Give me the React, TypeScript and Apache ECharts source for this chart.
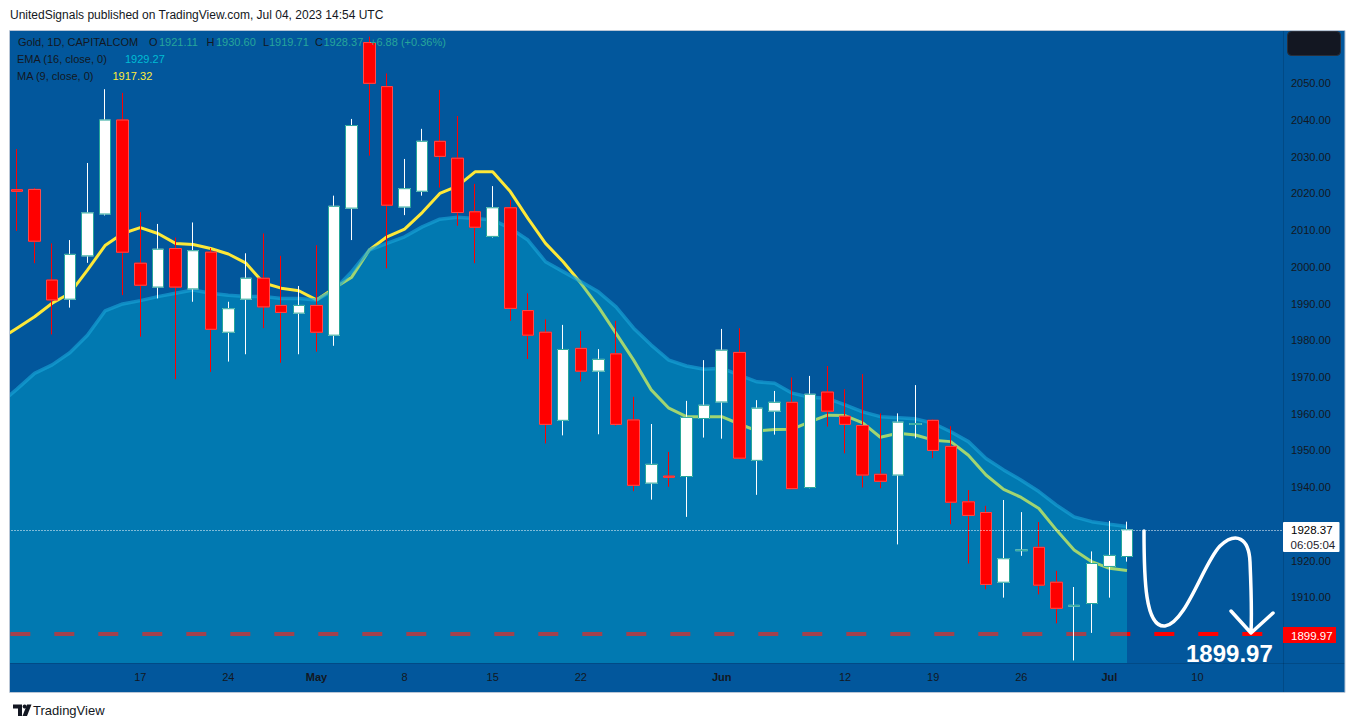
import { useEffect, useRef } from 'react';
import * as echarts from 'echarts';

// ---------- DATA ----------
const categories = [
  '2023-04-05', '2023-04-06', '2023-04-07',
  '2023-04-10', '2023-04-11', '2023-04-12', '2023-04-13', '2023-04-14',
  '2023-04-17', '2023-04-18', '2023-04-19', '2023-04-20', '2023-04-21',
  '2023-04-24', '2023-04-25', '2023-04-26', '2023-04-27', '2023-04-28',
  '2023-05-01', '2023-05-02', '2023-05-03', '2023-05-04', '2023-05-05',
  '2023-05-08', '2023-05-09', '2023-05-10', '2023-05-11', '2023-05-12',
  '2023-05-15', '2023-05-16', '2023-05-17', '2023-05-18', '2023-05-19',
  '2023-05-22', '2023-05-23', '2023-05-24', '2023-05-25', '2023-05-26',
  '2023-05-29', '2023-05-30', '2023-05-31', '2023-06-01', '2023-06-02',
  '2023-06-05', '2023-06-06', '2023-06-07', '2023-06-08', '2023-06-09',
  '2023-06-12', '2023-06-13', '2023-06-14', '2023-06-15', '2023-06-16',
  '2023-06-19', '2023-06-20', '2023-06-21', '2023-06-22', '2023-06-23',
  '2023-06-26', '2023-06-27', '2023-06-28', '2023-06-29', '2023-06-30',
  '2023-07-03', '2023-07-04', '2023-07-05', '2023-07-06', '2023-07-07',
  '2023-07-10', '2023-07-11', '2023-07-12', '2023-07-13', '2023-07-14',
  '2023-07-17',
];

// candles start at 2023-04-06 (category index 1)
const candleStart = 1;
const opens = [
  2021.0, 2021.1, 1996.4, 1991.2, 2003.0, 2014.4, 2040.0, 2001.0, 1994.5, 2005.0,
  1994.0, 2004.0, 1982.2, 1991.2, 1996.9, 1989.5, 1987.4, 1989.5, 1981.4, 2016.0,
  2061.1, 2049.1, 2016.3, 2020.6, 2034.2, 2029.6, 2015.0, 2008.3, 2016.1, 1988.1,
  1982.2, 1958.2, 1977.8, 1971.6, 1976.3, 1958.3, 1941.1, 1943.0, 1942.9, 1958.7,
  1963.2, 1976.7, 1947.3, 1960.7, 1963.1, 1939.9, 1965.9, 1959.3, 1956.8, 1943.5,
  1943.3, 1957.1, 1958.2, 1951.1, 1936.0, 1933.1, 1914.1, 1922.7, 1923.6, 1914.1,
  1907.6, 1908.3, 1918.4, 1921.11,
];
const highs = [
  2032.1, 2021.5, 2006.4, 2007.3, 2028.3, 2048.4, 2047.4, 2014.9, 2011.7, 2008.0,
  2012.1, 2005.1, 1990.5, 2003.7, 2009.1, 2003.0, 1994.8, 2005.9, 2019.4, 2040.3,
  2062.7, 2052.7, 2029.4, 2037.6, 2048.2, 2041.1, 2022.6, 2022.0, 2018.2, 1992.8,
  1985.7, 1984.2, 1982.5, 1977.6, 1985.3, 1964.6, 1957.2, 1949.6, 1963.5, 1974.6,
  1983.1, 1983.3, 1963.7, 1966.2, 1969.9, 1970.3, 1973.0, 1966.7, 1970.8, 1960.1,
  1960.1, 1967.8, 1958.4, 1956.6, 1939.2, 1934.9, 1936.5, 1933.2, 1930.5, 1917.2,
  1912.8, 1922.5, 1930.8, 1930.60,
];
const lows = [
  2009.8, 2001.0, 1981.6, 1988.9, 2001.1, 2014.0, 1992.3, 1981.0, 1991.4, 1969.4,
  1990.5, 1971.4, 1974.2, 1976.2, 1983.3, 1973.9, 1976.2, 1976.9, 1978.5, 2007.3,
  2030.3, 1999.6, 2014.1, 2019.4, 2021.6, 2011.2, 2001.0, 2008.0, 1985.3, 1974.9,
  1951.9, 1954.1, 1968.8, 1954.4, 1956.7, 1938.9, 1936.6, 1940.1, 1931.9, 1953.5,
  1953.2, 1947.6, 1937.9, 1954.3, 1939.4, 1939.7, 1956.5, 1949.2, 1939.9, 1939.7,
  1924.4, 1953.3, 1947.9, 1929.9, 1919.2, 1912.2, 1909.9, 1921.3, 1910.8, 1902.9,
  1892.8, 1900.3, 1909.9, 1919.71,
];
const closes = [
  2020.6, 2007.0, 1991.0, 2003.4, 2014.7, 2040.0, 2004.0, 1995.0, 2004.8, 1994.5,
  2004.4, 1983.0, 1988.6, 1996.9, 1989.1, 1987.6, 1989.5, 1982.2, 2016.5, 2038.5,
  2050.0, 2016.8, 2021.3, 2034.2, 2030.1, 2014.8, 2010.8, 2016.1, 1988.7, 1981.4,
  1957.1, 1977.5, 1971.6, 1974.8, 1957.1, 1940.5, 1946.2, 1942.7, 1959.0, 1962.3,
  1977.3, 1947.9, 1961.5, 1963.1, 1939.6, 1965.3, 1960.7, 1957.1, 1943.3, 1941.6,
  1957.7, 1957.3, 1950.0, 1935.9, 1932.3, 1913.5, 1920.5, 1922.9, 1913.3, 1907.0,
  1907.8, 1919.2, 1921.4, 1928.37,
];

// indicator values start at 2023-04-05 (category index 0)
const ema16 = [
  1962.6, 1966.7, 1971.0, 1973.3, 1976.6, 1981.4, 1988.0, 1989.9, 1990.8, 1991.9,
  1992.8, 1993.7, 1992.8, 1992.3, 1991.9, 1991.9, 1991.4, 1991.4,
  1991.0, 1993.7, 1998.7, 2004.6, 2006.4, 2008.2, 2010.9, 2013.0, 2013.5, 2013.2,
  2012.8, 2010.5, 2007.3, 2001.4, 1998.7, 1996.0, 1993.2, 1989.1, 1983.3, 1978.7,
  1974.6, 1973.0, 1972.1,
  1972.4, 1970.5, 1968.7, 1968.3, 1965.6, 1964.5, 1964.2, 1962.4, 1960.5, 1959.2,
  1958.9, 1958.6, 1957.4, 1955.1, 1952.4, 1947.8, 1944.7, 1941.9, 1938.8, 1935.1,
  1931.9, 1930.6,
  1929.9, 1929.27,
];
const ma9 = [
  1980.2, 1983.3, 1986.4, 1990.1, 1992.8, 1999.1, 2005.8, 2009.1, 2010.7, 2009.1,
  2006.4, 2006.1, 2005.0, 2003.5, 2001.0, 1995.6, 1994.2, 1993.5,
  1991.0, 1994.2, 1997.2, 2004.6, 2008.2, 2010.3, 2014.8, 2020.0, 2022.0, 2025.9,
  2025.9, 2020.5, 2013.2, 2006.4, 2001.4, 1995.6, 1989.1, 1981.9, 1974.6, 1966.5,
  1961.5, 1959.2, 1959.2,
  1959.2, 1957.2, 1955.3, 1955.7, 1955.8, 1957.8, 1959.6, 1959.5, 1957.5, 1953.6,
  1954.7, 1954.2, 1952.8, 1952.4, 1948.7, 1943.3, 1939.4, 1937.2, 1934.2, 1928.3,
  1922.9, 1919.7,
  1917.9, 1917.32,
];

const lastPrice = 1928.37;
const targetPrice = 1899.97;

const xTickDates = [
  '2023-04-17', '2023-04-24', '2023-05-01', '2023-05-08', '2023-05-15', '2023-05-22',
  '2023-06-01', '2023-06-12', '2023-06-19', '2023-06-26', '2023-07-03', '2023-07-10',
];
const xTickLabels = ['17', '24', 'May', '8', '15', '22', 'Jun', '12', '19', '26', 'Jul', '10'];
const monthLabels = ['May', 'Jun', 'Jul'];
const yTicks = [1910, 1920, 1940, 1950, 1960, 1970, 1980, 1990, 2000, 2010, 2020, 2030, 2040, 2050];

// ---------- SHAPES ----------
const arrowD =
  'M1144,531 C1144,578 1145,628 1165,626 C1186,623 1204,562 1220,546 C1236,531 1249,538 1250,562 C1251,585 1252,612 1251,632 M1231,611 L1251,633 L1273,613';
echarts.graphic.registerShape('handArrow', echarts.graphic.extendPath(arrowD, {}));

const FONT = 'Liberation Sans, Arial, sans-serif';
const DARK = '#131722';
const GREEN = '#26a69a';

function txt(x: number, y: number, text: string, fill: string, size = 11, extra: any = {}) {
  return {
    type: 'text',
    x,
    y,
    z: 60,
    silent: true,
    style: { text, fill, font: `${size}px ${FONT}`, textVerticalAlign: 'middle', verticalAlign: 'middle', ...extra },
  };
}

export default function App() {
  const ref = useRef<HTMLDivElement>(null);

  useEffect(() => {
    if (!ref.current) return;
    const chart = echarts.init(ref.current, null, { renderer: 'svg', width: 1355, height: 727 });

    const wickData = categories.map((_, i) => {
      const k = i - candleStart;
      if (k < 0 || k >= opens.length) return '-';
      return [opens[k], closes[k], lows[k], highs[k]];
    });
    const bodyData = categories.map((_, i) => {
      const k = i - candleStart;
      if (k < 0 || k >= opens.length) return '-';
      return [opens[k], closes[k], Math.min(opens[k], closes[k]), Math.max(opens[k], closes[k])];
    });
    const emaData = categories.map((_, i) => (i < ema16.length ? ema16[i] : '-'));
    const maData = categories.map((_, i) => (i < ma9.length ? ma9[i] : '-'));
    const targetData = categories.map(() => targetPrice);

    const bandW = 17.62;
    const gridLeft = -9.5;
    const gridWidth = categories.length * bandW;
    const priceAxisX = 1283;

    const option: any = {
      animation: false,
      backgroundColor: 'transparent',
      grid: {
        left: gridLeft,
        top: 31,
        width: gridWidth,
        height: 632,
        containLabel: false,
        outerBoundsMode: 'none',
      },
      xAxis: {
        type: 'category',
        data: categories,
        boundaryGap: true,
        axisLine: { show: false },
        axisTick: { show: false },
        splitLine: { show: false },
        axisLabel: {
          interval: (index: number, value: string) => xTickDates.includes(value),
          formatter: (value: string) => {
            const idx = xTickDates.indexOf(value);
            if (idx < 0) return '';
            const lab = xTickLabels[idx];
            return monthLabels.includes(lab) ? `{b|${lab}}` : `{n|${lab}}`;
          },
          margin: 8,
          rich: {
            n: { fontSize: 11, color: DARK, fontFamily: FONT },
            b: { fontSize: 11, color: DARK, fontFamily: FONT, fontWeight: 'bold' },
          },
        },
      },
      yAxis: {
        type: 'value',
        position: 'right',
        min: 1892.1,
        max: 2064.25,
        offset: priceAxisX - (gridLeft + gridWidth),
        axisLine: { show: false },
        axisTick: { show: false },
        splitLine: { show: false },
        axisLabel: {
          customValues: yTicks,
          formatter: (v: number) => v.toFixed(2),
          margin: 8,
          fontSize: 11,
          color: DARK,
          fontFamily: FONT,
        },
      },
      series: [
        {
          name: 'Target',
          type: 'line',
          data: targetData,
          z: 1,
          symbol: 'none',
          silent: true,
          lineStyle: { color: '#ff0000', width: 4, type: [20, 24], dashOffset: 33.3 },
        },
        {
          name: 'MA (9, close, 0)',
          type: 'line',
          data: maData,
          z: 2,
          symbol: 'none',
          silent: true,
          lineStyle: { color: '#fde838', width: 3 },
        },
        {
          name: 'EMA (16, close, 0)',
          type: 'line',
          data: emaData,
          z: 3,
          symbol: 'none',
          silent: true,
          lineStyle: { color: 'rgba(25,165,215,0.65)', width: 3.5 },
          areaStyle: { color: 'rgba(0,180,215,0.52)', origin: 'start' },
        },
        {
          name: 'wicks',
          type: 'candlestick',
          data: wickData,
          z: 4,
          barWidth: 12,
          silent: true,
          itemStyle: {
            color: '#ffffff',
            color0: '#ff0000',
            borderColor: '#ffffff',
            borderColor0: '#ff0000',
            borderWidth: 1,
          },
        },
        {
          name: 'bodies',
          type: 'candlestick',
          data: bodyData,
          z: 5,
          barWidth: 12,
          silent: true,
          itemStyle: {
            color: '#ffffff',
            color0: '#ff0000',
            borderColor: GREEN,
            borderColor0: '#ff4b4b',
            borderWidth: 1,
          },
          markLine: {
            silent: true,
            z: 10,
            symbol: ['none', 'none'],
            label: { show: false },
            lineStyle: { color: '#ffffff', width: 1, type: [1, 2], opacity: 1 },
            data: [{ yAxis: lastPrice }],
          },
        },
      ],
      graphic: [
        // frame background
        { type: 'rect', z: -10, silent: true, shape: { x: 10, y: 30, width: 1335, height: 662 }, style: { fill: '#02579c' } },
        // axis separators
        { type: 'line', z: -9, silent: true, shape: { x1: 1283.5, y1: 30, x2: 1283.5, y2: 692 }, style: { stroke: 'rgba(0,0,0,0.14)', lineWidth: 1 } },
        { type: 'line', z: -9, silent: true, shape: { x1: 10, y1: 663.5, x2: 1345, y2: 663.5 }, style: { stroke: 'rgba(0,0,0,0.14)', lineWidth: 1 } },
        // cover outside left
        { type: 'rect', z: 100, silent: true, shape: { x: 0, y: 0, width: 9.5, height: 727 }, style: { fill: '#ffffff' } },
        // frame border
        { type: 'rect', z: 101, silent: true, shape: { x: 9.5, y: 30.5, width: 1335.5, height: 662 }, style: { fill: 'none', stroke: '#b9c6d6', lineWidth: 1 } },
        // top right dark button
        { type: 'rect', z: 60, silent: true, shape: { x: 1287.5, y: 31.5, width: 53, height: 24, r: 4 }, style: { fill: '#131722', stroke: '#2a2e39', lineWidth: 1 } },
        // last price box
        { type: 'rect', z: 60, silent: true, shape: { x: 1283, y: 522, width: 56.5, height: 30, r: 1 }, style: { fill: '#ffffff' } },
        txt(1291, 530, '1928.37', '#000000', 11.5),
        txt(1290.5, 544.5, '06:05:04', '#1e222d', 11.5),
        // target box
        { type: 'rect', z: 60, silent: true, shape: { x: 1283, y: 627, width: 53, height: 16 }, style: { fill: '#ff0000' } },
        txt(1291, 635.5, '1899.97', '#ffffff', 11.5),
        // hand drawn arrow
        {
          type: 'handArrow',
          z: 70,
          silent: true,
          x: 0,
          y: 0,
          style: { fill: 'none', stroke: '#ffffff', lineWidth: 3.5, lineCap: 'round', lineJoin: 'round' },
        },
        txt(1186, 653, '1899.97', '#ffffff', 24, { font: `bold 24px ${FONT}` }),
        // header
        txt(10, 15, 'UnitedSignals published on TradingView.com, Jul 04, 2023 14:54 UTC', DARK, 12),
        // legend line 1
        txt(18, 42, 'Gold, 1D, CAPITALCOM', DARK),
        txt(149, 42, 'O', DARK),
        txt(159, 42, '1921.11', GREEN),
        txt(206.5, 42, 'H', DARK),
        txt(216, 42, '1930.60', GREEN),
        txt(263, 42, 'L', DARK),
        txt(269, 42, '1919.71', GREEN),
        txt(315, 42, 'C', DARK),
        txt(323.5, 42, '1928.37', GREEN),
        txt(370, 42, '+6.88 (+0.36%)', GREEN),
        // legend line 2
        txt(17, 59, 'EMA (16, close, 0)', DARK),
        txt(125, 59, '1929.27', '#00bcd4'),
        // legend line 3
        txt(17, 76, 'MA (9, close, 0)', DARK),
        txt(112.5, 76, '1917.32', '#ffeb3b'),
        // footer logo
        { type: 'polygon', z: 60, silent: true, shape: { points: [[13, 704.5], [22, 704.5], [22, 716], [18, 716], [18, 708.5], [13, 708.5]] }, style: { fill: DARK } },
        { type: 'circle', z: 60, silent: true, shape: { cx: 24.6, cy: 706.5, r: 2 }, style: { fill: DARK } },
        { type: 'polygon', z: 60, silent: true, shape: { points: [[27, 704.5], [31.5, 704.5], [27, 716], [22.5, 716]] }, style: { fill: DARK } },
        txt(33, 710.5, 'TradingView', DARK, 13),
      ],
    };

    chart.setOption(option);
    return () => chart.dispose();
  }, []);

  return (
    <div
      ref={ref}
      style={{ position: 'fixed', left: 0, top: 0, width: 1355, height: 727, background: '#ffffff' }}
    />
  );
}
